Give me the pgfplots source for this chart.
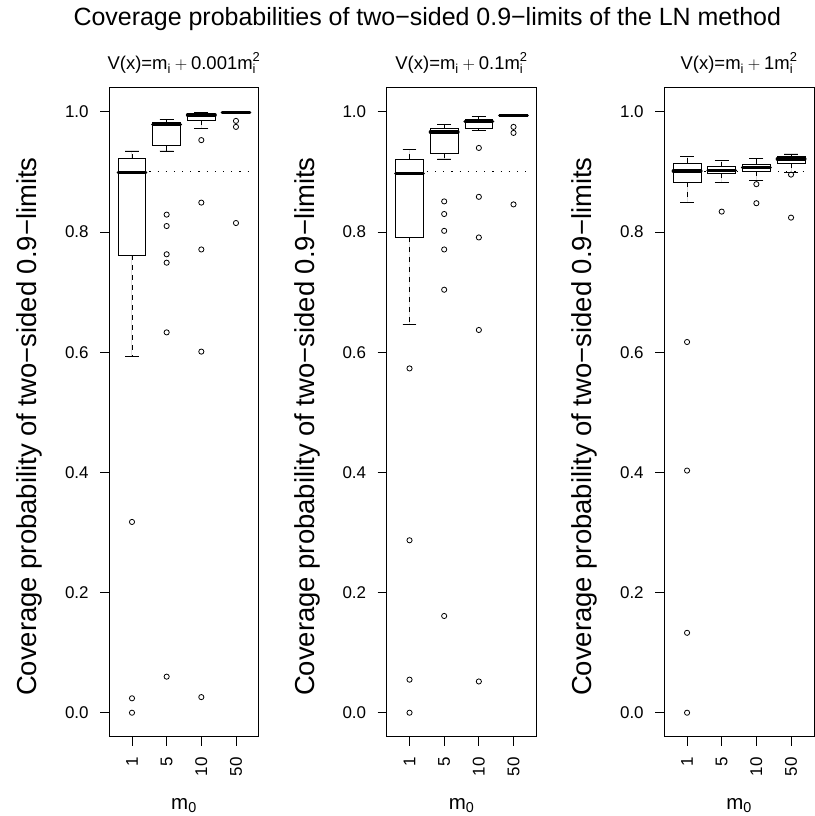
\documentclass[border=0pt]{standalone}
\usepackage{amsmath}
\usepackage{fontspec}
\setmainfont{Liberation Sans}
\usepackage{pgfplots}
\usepgfplotslibrary{statistics}
\pgfplotsset{compat=1.18}
\newcommand{\fs}[1]{\fontsize{#1}{#1}\selectfont}
\pgfplotsset{
  panel/.style={
    at={(#1pt,78pt)}, anchor=south west, scale only axis, width=150pt, height=650pt,
    xmin=0.34, xmax=4.66, ymin=-0.04, ymax=1.04,
    axis line style={line width=0.8pt},
    xtick={1,2,3,4}, xticklabels={1,5,10,50},
    ytick={0,0.2,0.4,0.6,0.8,1.0},
    xtick pos=lower, ytick pos=left,
    tick align=outside, major tick length=9pt,
    every tick/.style={line width=0.8pt, black},
    yticklabel style={/pgf/number format/.cd, fixed, fixed zerofill, precision=1, assume math mode=true},
    ticklabel style={font=\fs{17}},
    xticklabel style={rotate=90, anchor=east},
    xticklabel shift=8pt, yticklabel shift=8pt,
    every axis y label/.style={at={(axis description cs:-0.53,0.478)}, rotate=90, anchor=center, font=\fs{27.5}},
    every axis x label/.style={at={(axis description cs:0.5,-0.112)}, anchor=base, font=\fs{20.5}},
    every axis title/.style={at={(axis description cs:0.5,1.028)}, anchor=base, font=\fs{18.5}},
    ylabel={Coverage probability of two−sided 0.9−limits},
    xlabel={$\text{m}_{\text{0}}$},
    boxplot/draw direction=y,
    boxplot/box extend=0.8, boxplot/whisker extend=0.4,
    boxplot/every median/.style={line width=3.2pt, line cap=round},
    boxplot/draw/lower whisker/.code={%
      \draw[black, line width=0.8pt, dash pattern=on 5pt off 5pt]
        (boxplot cs:\pgfplotsboxplotvalue{lower quartile}) -- (boxplot cs:\pgfplotsboxplotvalue{lower whisker});
      \draw[black, line width=0.8pt, solid]
        (boxplot whisker cs:\pgfplotsboxplotvalue{lower whisker},0) -- (boxplot whisker cs:\pgfplotsboxplotvalue{lower whisker},1);
    },
    boxplot/draw/upper whisker/.code={%
      \draw[black, line width=0.8pt, dash pattern=on 5pt off 5pt]
        (boxplot cs:\pgfplotsboxplotvalue{upper quartile}) -- (boxplot cs:\pgfplotsboxplotvalue{upper whisker});
      \draw[black, line width=0.8pt, solid]
        (boxplot whisker cs:\pgfplotsboxplotvalue{upper whisker},0) -- (boxplot whisker cs:\pgfplotsboxplotvalue{upper whisker},1);
    },
  },
  bx/.style={black, line width=0.8pt, fill=white, solid},
  outl/.style={only marks, mark=o, mark size=2.6pt, black, mark options={line width=0.8pt}},
  refl/.style={black, line width=1pt, dash pattern=on 1.2pt off 7pt},
}
\begin{document}
\begin{tikzpicture}
\path (0pt,0pt) rectangle (816pt,816pt);
\node[anchor=base, font=\fs{25}] at (428pt,790pt) {Coverage probabilities of two−sided 0.9−limits of the LN method};

% Panel 1
\begin{axis}[panel=109.3, title={V(x)=$\text{m}_{\text{i}} + \text{0.001m}_{\text{i}}^{\text{2}}$}]
\addplot[refl] coordinates {(1.5,0.9) (4.5,0.9)};
\addplot[bx, boxplot prepared={draw position=1, lower whisker=0.593, lower quartile=0.761, median=0.899, upper quartile=0.922, upper whisker=0.935}] coordinates {};
\addplot[bx, boxplot prepared={draw position=2, lower whisker=0.935, lower quartile=0.944, median=0.979, upper quartile=0.983, upper whisker=0.988}] coordinates {};
\addplot[bx, boxplot prepared={draw position=3, lower whisker=0.973, lower quartile=0.986, median=0.9947, upper quartile=0.996, upper whisker=0.999}] coordinates {};
\addplot[bx, boxplot prepared={draw position=4, lower whisker=0.998, lower quartile=0.998, median=0.999, upper quartile=1.0, upper whisker=1.0}] coordinates {};
\addplot[outl] coordinates {(1,0.3175) (1,0.024) (1,0.0)
 (2,0.829) (2,0.810) (2,0.763) (2,0.749) (2,0.633) (2,0.060)
 (3,0.953) (3,0.849) (3,0.771) (3,0.601) (3,0.026)
 (4,0.985) (4,0.975) (4,0.815)};
\end{axis}

% Panel 2
\begin{axis}[panel=387.3, title={V(x)=$\text{m}_{\text{i}} + \text{0.1m}_{\text{i}}^{\text{2}}$}]
\addplot[refl] coordinates {(1.5,0.9) (4.5,0.9)};
\addplot[bx, boxplot prepared={draw position=1, lower whisker=0.646, lower quartile=0.791, median=0.898, upper quartile=0.921, upper whisker=0.938}] coordinates {};
\addplot[bx, boxplot prepared={draw position=2, lower whisker=0.9217, lower quartile=0.931, median=0.9665, upper quartile=0.973, upper whisker=0.9786}] coordinates {};
\addplot[bx, boxplot prepared={draw position=3, lower whisker=0.969, lower quartile=0.9726, median=0.984, upper quartile=0.9875, upper whisker=0.992}] coordinates {};
\addplot[bx, boxplot prepared={draw position=4, lower whisker=0.993, lower quartile=0.993, median=0.994, upper quartile=0.995, upper whisker=0.995}] coordinates {};
\addplot[outl] coordinates {(1,0.573) (1,0.287) (1,0.055) (1,0.0)
 (2,0.851) (2,0.830) (2,0.802) (2,0.771) (2,0.704) (2,0.161)
 (3,0.940) (3,0.8586) (3,0.791) (3,0.637) (3,0.052)
 (4,0.975) (4,0.965) (4,0.846)};
\end{axis}

% Panel 3
\begin{axis}[panel=665.3, title={V(x)=$\text{m}_{\text{i}} + \text{1m}_{\text{i}}^{\text{2}}$}]
\addplot[refl] coordinates {(1.5,0.9) (4.5,0.9)};
\addplot[bx, boxplot prepared={draw position=1, lower whisker=0.850, lower quartile=0.883, median=0.9017, upper quartile=0.9145, upper whisker=0.9255}] coordinates {};
\addplot[bx, boxplot prepared={draw position=2, lower whisker=0.883, lower quartile=0.898, median=0.903, upper quartile=0.909, upper whisker=0.919}] coordinates {};
\addplot[bx, boxplot prepared={draw position=3, lower whisker=0.8857, lower quartile=0.9017, median=0.907, upper quartile=0.913, upper whisker=0.922}] coordinates {};
\addplot[bx, boxplot prepared={draw position=4, lower whisker=0.8995, lower quartile=0.9145, median=0.9217, upper quartile=0.9255, upper whisker=0.930}] coordinates {};
\addplot[outl] coordinates {(1,0.617) (1,0.403) (1,0.133) (1,0.0)
 (2,0.834)
 (3,0.8797) (3,0.848)
 (4,0.8956) (4,0.824)};
\end{axis}
\end{tikzpicture}
\end{document}
